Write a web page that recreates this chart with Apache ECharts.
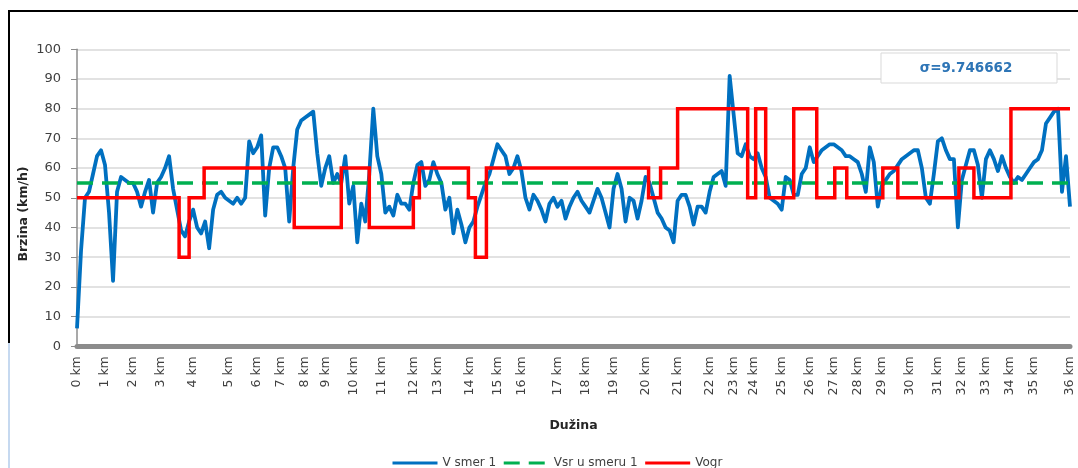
<!DOCTYPE html>
<html>
<head>
<meta charset="utf-8">
<script src="https://cdn.jsdelivr.net/npm/echarts@6/dist/echarts.min.js"></script>
<style>
  html, body { margin: 0; padding: 0; background: #ffffff; }
  #chart { width: 1078px; height: 468px; }
</style>
</head>
<body>
<div id="chart"></div>
<script>
// Measured speed along the route (km/h), one sample per step of the recording
const vSmer1 = [
   6, 32, 50, 52, 58, 64, 66, 61, 45, 22, 52, 57, 56, 55, 55, 52, 47, 52, 56, 45,
  55, 57, 60, 64, 53, 46, 39, 37, 42, 46, 40, 38, 42, 33, 46, 51, 52, 50, 49, 48,
  50, 48, 50, 69, 65, 67, 71, 44, 60, 67, 67, 64, 60, 42, 60, 73, 76, 77, 78, 79,
  65, 54, 60, 64, 55, 58, 55, 64, 48, 54, 35, 48, 42, 58, 80, 64, 58, 45, 47, 44,
  51, 48, 48, 46, 55, 61, 62, 54, 56, 62, 58, 55, 46, 50, 38, 46, 41, 35, 40, 42,
  47, 51, 55, 58, 63, 68, 66, 64, 58, 60, 64, 59, 50, 46, 51, 49, 46, 42, 48, 50,
  47, 49, 43, 47, 50, 52, 49, 47, 45, 49, 53, 50, 45, 40, 53, 58, 53, 42, 50, 49,
  43, 49, 57, 55, 50, 45, 43, 40, 39, 35, 49, 51, 51, 47, 41, 47, 47, 45, 52, 57,
  58, 59, 54, 91, 78, 65, 64, 68, 64, 63, 65, 60, 57, 50, 49, 48, 46, 57, 56, 51,
  51, 58, 60, 67, 62, 64, 66, 67, 68, 68, 67, 66, 64, 64, 63, 62, 58, 52, 67, 62,
  47, 54, 56, 58, 59, 61, 63, 64, 65, 66, 66, 60, 50, 48, 58, 69, 70, 66, 63, 63,
  40, 56, 61, 66, 66, 61, 50, 63, 66, 63, 59, 64, 60, 57, 55, 57, 56, 58, 60, 62,
  63, 66, 75, 77, 79, 80, 52, 64, 47
];

// Distance marks and the sample at which each one falls
const kmLabels = [
  '0 km', '1 km', '2 km', '3 km', '4 km', '5 km', '6 km', '7 km', '8 km', '9 km',
  '10 km', '11 km', '12 km', '13 km', '14 km', '15 km', '16 km', '17 km', '18 km',
  '19 km', '20 km', '21 km', '22 km', '23 km', '24 km', '25 km', '26 km', '27 km',
  '28 km', '29 km', '30 km', '31 km', '32 km', '33 km', '34 km', '35 km', '36 km'
];
const kmAt = [
  0, 7, 14, 21, 29, 38, 45, 51, 57, 62, 69, 76, 84, 90, 98, 105, 111, 120, 127,
  134, 142, 150, 158, 164, 169, 176, 183, 189, 195, 201, 208, 215, 221, 227, 233,
  239, 248
];

// Mean speed in direction 1 (km/h)
const vsrSmeru1 = 55;

// Speed limit: sample position where each section begins, and its limit (km/h)
const vogrFrom = [
  0, 25.5, 28, 31.75, 54.25, 66, 73, 84, 85.5, 97.75, 99.5, 102.25, 142.75,
  145.75, 150, 167.5, 169.5, 172, 179, 184.75, 189.25, 192.25, 201.25, 205,
  220.25, 224, 233.25
];
const vogrLimit = [
  50, 30, 50, 60, 40, 60, 40, 50, 60, 50, 30, 60, 50,
  60, 80, 50, 80, 50, 80, 50, 60, 50, 60, 50,
  60, 50, 80
];

const sigmaText = 'σ=9.746662';

const FONT = '"DejaVu Sans", Verdana, sans-serif';
const lastIdx = vSmer1.length - 1;
const sampleIds = vSmer1.map((_, i) => String(i));

const vogrData = vogrFrom.map((p, k) => [p, vogrLimit[k]]);
vogrData.push([lastIdx, vogrLimit[vogrLimit.length - 1]]);
const vsrData = [[0, vsrSmeru1], [lastIdx, vsrSmeru1]];

const chart = echarts.init(document.getElementById('chart'), null, { renderer: 'canvas' });

chart.setOption({
  animation: false,
  backgroundColor: '#ffffff',
  textStyle: { fontFamily: FONT },
  grid: { left: 77, right: 8, top: 49.3, bottom: 121.8, containLabel: false },
  legend: {
    left: 386,
    top: 452,
    itemWidth: 45,
    itemHeight: 14,
    itemGap: 6,
    itemStyle: { opacity: 0 },
    lineStyle: { width: 3 },
    textStyle: { fontFamily: FONT, fontSize: 12, color: '#404040' },
    data: ['V smer 1', 'Vsr u smeru 1', 'Vogr']
  },
  xAxis: [
    {
      type: 'category',
      data: sampleIds,
      boundaryGap: false,
      axisLine: { show: true, lineStyle: { color: '#8c8c8c', width: 5 } },
      axisTick: { show: false },
      splitLine: { show: false },
      axisLabel: {
        interval: (idx) => kmAt.indexOf(idx) >= 0,
        formatter: (val, idx) => {
          const k = kmAt.indexOf(idx);
          return k >= 0 ? kmLabels[k] : '';
        },
        rotate: 90,
        margin: 10,
        fontFamily: FONT,
        fontSize: 12.5,
        color: '#404040'
      },
      name: 'Dužina',
      nameLocation: 'middle',
      nameGap: 73,
      nameTextStyle: { fontFamily: FONT, fontSize: 12.5, fontWeight: 'bold', color: '#262626' }
    },
    {
      type: 'value',
      show: false,
      min: 0,
      max: lastIdx
    }
  ],
  yAxis: {
    type: 'value',
    min: 0,
    max: 100,
    interval: 10,
    axisLine: { show: true, lineStyle: { color: '#8c8c8c', width: 1.5 } },
    axisTick: { show: true, length: 6, lineStyle: { color: '#8c8c8c' } },
    splitLine: { show: true, lineStyle: { color: '#d9d9d9', width: 1.5 } },
    axisLabel: { margin: 16, fontFamily: FONT, fontSize: 13, color: '#404040' }
  },
  series: [
    {
      name: 'V smer 1',
      type: 'line',
      xAxisIndex: 0,
      data: vSmer1,
      symbol: 'none',
      lineStyle: { color: '#0070C0', width: 3.8, join: 'round' },
      itemStyle: { color: '#0070C0' },
      z: 2
    },
    {
      name: 'Vsr u smeru 1',
      type: 'line',
      xAxisIndex: 1,
      data: vsrData,
      symbol: 'none',
      lineStyle: { color: '#00B050', width: 3.5, type: [16, 9] },
      itemStyle: { color: '#00B050' },
      z: 3
    },
    {
      name: 'Vogr',
      type: 'line',
      xAxisIndex: 1,
      data: vogrData,
      step: 'end',
      symbol: 'none',
      lineStyle: { color: '#FF0000', width: 3.5, join: 'miter' },
      itemStyle: { color: '#FF0000' },
      z: 4
    }
  ],
  graphic: [
    { type: 'line', shape: { x1: 9, y1: 11, x2: 1078, y2: 11 }, style: { stroke: '#000000', lineWidth: 2 } },
    { type: 'line', shape: { x1: 9, y1: 10, x2: 9, y2: 343 }, style: { stroke: '#000000', lineWidth: 2 } },
    { type: 'line', shape: { x1: 9, y1: 343, x2: 9, y2: 468 }, style: { stroke: '#c6d9f0', lineWidth: 2 } },
    {
      type: 'text',
      x: 24,
      y: 214,
      rotation: Math.PI / 2,
      style: {
        text: 'Brzina (km/h)',
        font: 'bold 12.5px ' + FONT,
        fill: '#262626',
        align: 'center',
        verticalAlign: 'middle'
      }
    },
    {
      type: 'rect',
      z: 10,
      shape: { x: 881, y: 53, width: 176, height: 30 },
      style: { fill: '#ffffff', stroke: '#d9d9d9', lineWidth: 1 }
    },
    {
      type: 'text',
      z: 11,
      x: 966,
      y: 68,
      style: {
        text: sigmaText,
        font: 'bold 13.5px ' + FONT,
        fill: '#2E75B6',
        align: 'center',
        verticalAlign: 'middle'
      }
    }
  ]
});
</script>
</body>
</html>
